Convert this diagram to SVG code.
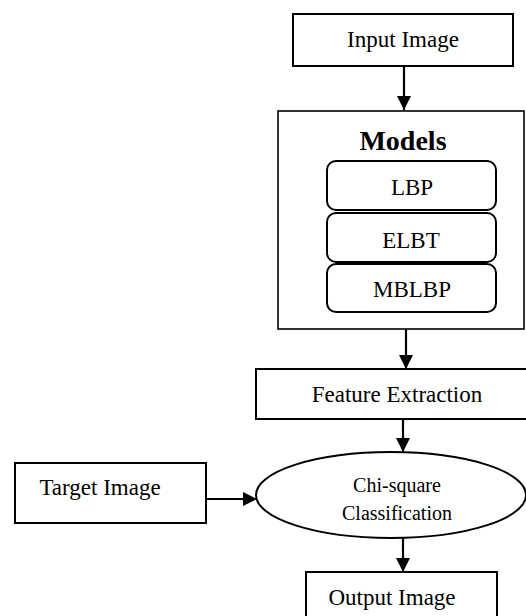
<svg xmlns="http://www.w3.org/2000/svg" width="526" height="616" viewBox="0 0 526 616">
<style>
.box{fill:#fff;stroke:#000;stroke-width:2}
.t{font-family:"Liberation Serif","Times New Roman",serif;font-size:23px;fill:#000;text-anchor:middle}
.e{font-size:20px}
.b{font-weight:bold;font-size:28px}
.c{stroke:#000;stroke-width:2.2;fill:none}
</style>
<defs>
<marker id="ah" viewBox="0 0 14 14" refX="14" refY="7" markerWidth="14" markerHeight="14" markerUnits="userSpaceOnUse" orient="auto">
<path d="M0,0 L14,7 L0,14 Z" fill="#000"/>
</marker>
</defs>
<g id="input">
<rect class="box" x="293" y="14" width="220" height="52"/>
<text class="t" x="403" y="47">Input Image</text>
</g>
<g id="models">
<rect class="box" x="278" y="111" width="246" height="218" style="stroke-width:1.6"/>
<text class="t b" x="403" y="150">Models</text>
<g id="lbp">
<rect class="box" x="327" y="161" width="169" height="49" rx="9"/>
<text class="t" x="412" y="195">LBP</text>
</g>
<g id="elbt">
<rect class="box" x="327" y="213" width="169" height="49" rx="9"/>
<text class="t" x="411" y="248">ELBT</text>
</g>
<g id="mblbp">
<rect class="box" x="327" y="264" width="169" height="48" rx="9"/>
<text class="t" x="412" y="297">MBLBP</text>
</g>
</g>
<g id="feature">
<rect class="box" x="256" y="369" width="272" height="50"/>
<text class="t" x="397" y="402">Feature Extraction</text>
</g>
<g id="chi">
<ellipse class="box" cx="391" cy="495" rx="135" ry="43"/>
<text class="t e" x="397" y="492">Chi-square</text>
<text class="t e" x="397" y="520">Classification</text>
</g>
<g id="target">
<rect class="box" x="15" y="463" width="191" height="60"/>
<text class="t" x="100" y="495">Target Image</text>
</g>
<g id="output">
<rect class="box" x="306" y="572" width="191" height="50"/>
<text class="t" x="392" y="605">Output Image</text>
</g>
<g id="connectors">
<line class="c" x1="404" y1="66" x2="404" y2="110" marker-end="url(#ah)"/>
<line class="c" x1="406" y1="329" x2="406" y2="369" marker-end="url(#ah)"/>
<line class="c" x1="403" y1="419" x2="403" y2="452" marker-end="url(#ah)"/>
<line class="c" x1="206" y1="499" x2="257" y2="499" marker-end="url(#ah)"/>
<line class="c" x1="403" y1="538" x2="403" y2="572" marker-end="url(#ah)"/>
</g>
</svg>
